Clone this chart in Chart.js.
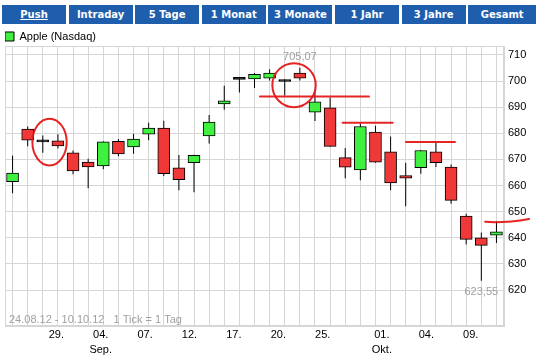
<!DOCTYPE html>
<html><head><meta charset="utf-8">
<script src="https://cdn.jsdelivr.net/npm/chart.js@4/dist/chart.umd.min.js"></script>
<style>
html,body{margin:0;padding:0;background:#fff;width:536px;height:359px;overflow:hidden;}
#tabs{position:absolute;left:0;top:5px;width:536px;height:19px;}
.tab{position:absolute;top:0;height:19px;background:#1f5dad;color:#fff;font:bold 10px "DejaVu Sans",Verdana,sans-serif;text-align:center;line-height:19px;white-space:nowrap;overflow:hidden;}
.tab.active span{text-decoration:underline;}
#wrap{position:absolute;left:0;top:31px;width:536px;height:328px;}
</style></head>
<body>
<div id="tabs"></div>
<div id="wrap"><canvas id="c"></canvas></div>
<script>
// ---- data ----
const tabNames = ['Push','Intraday','5 Tage','1 Monat','3 Monate','1 Jahr','3 Jahre','Gesamt'];
const seriesName = 'Apple (Nasdaq)';
const rangeNote = '24.08.12 - 10.10.12   1 Tick = 1 Tag';
const dates = ['24.08','27.08','28.08','29.08','30.08','31.08',
  '04.09','05.09','06.09','07.09','10.09','11.09','12.09','13.09','14.09','17.09','18.09','19.09','20.09','21.09','24.09','25.09','26.09','27.09','28.09',
  '01.10','02.10','03.10','04.10','05.10','08.10','09.10','10.10'];
const openP  = [661.5,681.6,676.7,677.1,672.5,669.0,667.5,676.9,674.8,679.7,682.0,666.8,668.7,679.0,691.2,700.6,700.8,701.1,699.8,703.0,688.1,689.7,670.7,666.0,680.5,672.9,663.8,666.8,672.9,667.1,648.3,640.0,641.0];
const highP  = [671.5,682.6,679.1,679.6,673.4,670.2,676.9,677.8,679.8,684.0,684.8,671.7,671.8,687.0,698.2,700.8,703.1,704.5,700.7,705.07,696.0,693.7,674.4,683.7,682.9,678.8,668.7,673.6,676.3,668.0,649.2,642.0,646.4];
const lowP   = [657.0,675.0,672.5,674.2,664.3,659.0,666.2,671.2,672.2,677.3,663.6,658.2,657.4,676.1,689.0,695.6,697.3,700.2,694.5,700.2,684.7,674.8,662.8,662.0,668.7,658.2,652.1,664.5,667.1,653.0,637.4,623.55,638.0];
const closeP = [664.8,677.4,676.7,675.2,665.6,667.1,676.7,672.1,677.8,682.0,664.5,662.2,671.6,684.3,692.4,700.6,702.6,703.0,699.8,701.1,692.0,675.0,667.0,682.6,668.9,661.0,662.8,673.4,668.7,654.3,639.4,637.1,642.3];
const xTickIdx = [3,6,9,12,15,18,21,25,28,31];
const xTickLabels = [['29.'],['04.','Sep.'],['07.'],['12.'],['17.'],['20.'],['25.'],['01.','Okt.'],['04.'],['09.']];
const yTicks = [620,630,640,650,660,670,680,690,700,710];
// hand-drawn marks, in (candle index, price) units
const penLines = [
  [[16.36,694.1],[23.57,694.1]],
  [[21.83,684.0],[25.14,684.0]],
  [[26.02,676.7],[29.26,676.7]],
  [[31.25,646.1],[32.57,645.6],[34.16,647.2]]
];
const penEllipses = [[1.31,3.58,667.7,685.6],[17.18,20.05,690.0,706.8]];

// ---- tabs ----
const tabsEl = document.getElementById('tabs');
tabNames.forEach((t,k)=>{
  const d=document.createElement('div');
  d.className='tab'+(k===0?' active':'');
  d.style.left=(2+k*66.6)+'px';
  d.style.width=(k===tabNames.length-1?68:64)+'px';
  const s=document.createElement('span'); s.textContent=t; d.appendChild(s);
  tabsEl.appendChild(d);
});

// ---- chart ----
const GREEN='#40f040', RED='#f03838', GRID='#d6d6d6', FONT='"Liberation Sans", Arial, sans-serif';
const bodyColors = openP.map((o,i)=> closeP[i]>o ? GREEN : (closeP[i]<o ? RED : '#000'));
const fmt = v => v.toFixed(2).replace('.',',');

const legendHeight = { id:'legendHeight', beforeInit(chart){
  const f = chart.legend.fit; chart.legend.fit = function(){ f.call(this); this.height = 15; };
}};

const decor = { id:'decor', afterDraw(chart){
  const {ctx, chartArea:a, scales:{x,y}} = chart;
  ctx.save();
  ctx.strokeStyle=GRID; ctx.lineWidth=1;
  ctx.strokeRect(Math.round(a.left)+0.5, Math.round(a.top)+0.5, Math.round(a.right-a.left)-1, Math.round(a.bottom-a.top)-1);
  ctx.fillStyle='#a0a0a0'; ctx.font='11px '+FONT; ctx.textBaseline='middle'; ctx.textAlign='left';
  ctx.fillText(rangeNote, a.left+4, a.bottom-6);
  let hi=0, lo=0;
  highP.forEach((v,i)=>{ if(v>highP[hi]) hi=i; });
  lowP.forEach((v,i)=>{ if(v<lowP[lo]) lo=i; });
  ctx.textAlign='center';
  ctx.fillText(fmt(highP[hi]), x.getPixelForValue(hi), y.getPixelForValue(highP[hi])-11);
  ctx.fillText(fmt(lowP[lo]), x.getPixelForValue(lo), y.getPixelForValue(lowP[lo])+11);
  ctx.strokeStyle='rgba(228,24,24,0.95)'; ctx.lineWidth=2; ctx.lineCap='round';
  penLines.forEach(pts=>{
    ctx.beginPath();
    const P = pts.map(p=>[x.getPixelForValue(p[0]), y.getPixelForValue(p[1])]);
    ctx.moveTo(P[0][0],P[0][1]);
    if(P.length===2) ctx.lineTo(P[1][0],P[1][1]);
    else ctx.quadraticCurveTo(P[1][0],P[1][1],P[2][0],P[2][1]);
    ctx.stroke();
  });
  penEllipses.forEach(e=>{
    const x0=x.getPixelForValue(e[0]), x1=x.getPixelForValue(e[1]);
    const y0=y.getPixelForValue(e[3]), y1=y.getPixelForValue(e[2]);
    ctx.beginPath();
    ctx.ellipse((x0+x1)/2,(y0+y1)/2,(x1-x0)/2,(y1-y0)/2,0,0,Math.PI*2);
    ctx.stroke();
  });
  ctx.restore();
}};

new Chart(document.getElementById('c'), {
  type:'bar',
  data:{
    labels: dates,
    datasets:[
      {label:seriesName, data: dates.map((d,i)=>[openP[i], closeP[i]]), backgroundColor: bodyColors,
       borderColor:'#000', borderWidth:1, borderSkipped:false, barThickness:12, minBarLength:2, grouped:false, order:0},
      {label:'range', data: dates.map((d,i)=>[lowP[i], highP[i]]), backgroundColor:'#000', borderWidth:0,
       barThickness:1, inflateAmount:0, grouped:false, order:1}
    ]
  },
  options:{
    responsive:true, maintainAspectRatio:false, animation:false,
    layout:{padding:{left:5,right:0,top:0,bottom:1}},
    plugins:{
      tooltip:{enabled:false},
      legend:{position:'top', align:'start', onClick:null,
        labels:{boxWidth:9, boxHeight:9, padding:0, color:'#000', font:{family:FONT, size:11},
          generateLabels:()=>[{text:seriesName, fillStyle:GREEN, strokeStyle:'#000', lineWidth:1, hidden:false, datasetIndex:0}]}}
    },
    scales:{
      x:{type:'category', offset:true, grid:{color:GRID, drawTicks:false, offset:false}, border:{color:GRID}, ticks:{display:false}},
      x2:{type:'linear', position:'bottom', offset:false, min:-0.466, max:33.25,
        grid:{display:false, drawTicks:false, offset:false}, border:{display:false},
        ticks:{autoSkip:false, maxRotation:0, padding:1, color:'#000', font:{family:FONT, size:11, lineHeight:1.36},
          callback:(v)=>{const k=xTickIdx.indexOf(v); return k<0?'':xTickLabels[k];}},
        afterBuildTicks:s=>{s.ticks = xTickIdx.map(v=>({value:v}));}},
      y:{position:'right', min:606.2, max:713.4,
        grid:{color:GRID, drawTicks:false}, border:{color:GRID},
        ticks:{padding:4, color:'#000', font:{family:FONT, size:11}},
        afterBuildTicks:s=>{s.ticks = yTicks.map(v=>({value:v}));},
        afterFit:s=>{s.width=32;}}
    }
  },
  plugins:[legendHeight, decor]
});
</script>
</body></html>
